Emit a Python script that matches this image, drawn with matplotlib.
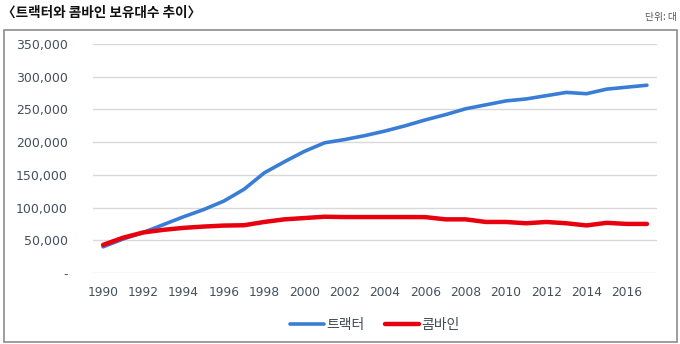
import matplotlib.pyplot as plt
from matplotlib.patches import Rectangle
from matplotlib.ticker import FuncFormatter

plt.rcParams['font.family'] = ['Noto Sans CJK KR', 'DejaVu Sans']

# 연도별 보유대수 (단위: 대)
years = list(range(1990, 2018))
tractor = [40000, 52000, 62000, 74000, 86000, 97000, 110000, 128000, 153000, 170000,
           186000, 199000, 204000, 210000, 217000, 225000, 234000, 242000, 251000, 257000,
           263000, 266000, 271000, 276000, 274000, 281000, 284000, 287000]
combine = [43000, 54000, 62000, 66000, 69000, 71000, 72500, 73000, 78000, 82000,
           84000, 86000, 85500, 85500, 85500, 85500, 85400, 82000, 82000, 78000,
           78000, 76000, 78000, 76000, 72700, 76700, 75000, 75000]
yticks = [0, 50000, 100000, 150000, 200000, 250000, 300000, 350000]

fig = plt.figure(figsize=(6.8, 3.44), dpi=100)
fig.patches.append(Rectangle((4 / 680, 2 / 344), 673 / 680, 312 / 344, transform=fig.transFigure,
                             fill=False, edgecolor='#8c8c8c', linewidth=1.2))

ax = fig.add_axes([93 / 680, 1 - 273 / 344, 564 / 680, 229 / 344])
x = list(range(len(years)))
ax.plot(x, tractor, color='#3a7dd6', linewidth=2.6, label='트랙터', solid_capstyle='round')
ax.plot(x, combine, color='#e8000f', linewidth=3.2, label='콤바인', solid_capstyle='round')

ax.set_xlim(-0.5, len(years) - 0.5)
ax.set_ylim(0, 350000)
ax.set_yticks(yticks)
ax.yaxis.set_major_formatter(FuncFormatter(lambda v, p: '-' if v == 0 else f'{int(v):,}'))
ax.set_xticks(x[::2])
ax.set_xticklabels([str(y) for y in years[::2]])
ax.grid(axis='y', color='#d9d9d9', linewidth=1)
ax.set_axisbelow(True)
for s in ax.spines.values():
    s.set_visible(False)
ax.tick_params(length=0, colors='#44505c')
ax.tick_params(axis='y', labelsize=9, pad=18)
ax.tick_params(axis='x', labelsize=8.8, pad=9)
for t in ax.get_yticklabels() + ax.get_xticklabels():
    t.set_family('DejaVu Sans')

leg = ax.legend(loc='upper center', bbox_to_anchor=(0.5, -0.14), ncol=2, frameon=False,
                fontsize=10, handlelength=2.4, handletextpad=0.2, columnspacing=1.5)
for t in leg.get_texts():
    t.set_color('#404a55')

fig.text(2 / 680, 1 - 13 / 344, '〈트랙터와 콤바인 보유대수 추이〉', fontsize=9.8,
         fontweight='bold', va='center', ha='left', color='#111111')
fig.text(677 / 680, 1 - 17 / 344, '단위: 대', fontsize=7, va='center', ha='right', color='#555555')

fig.savefig('out.png', dpi=100)
